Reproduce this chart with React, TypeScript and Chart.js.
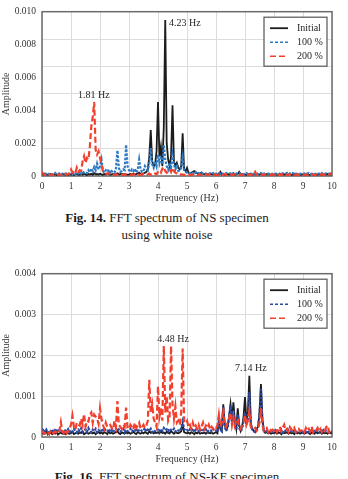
import React, { useEffect, useRef } from "react";
import { Chart, registerables } from "chart.js";

Chart.register(...registerables);

// Frequency bins (Hz), 0.05 Hz resolution, 0..10 Hz
const FREQ_BINS: number[] = Array.from({ length: 201 }, (_, i) => +(i * 0.05).toFixed(2));

// Amplitudes in units of 1e-5 ; one row per Hz (20 bins), last value = 10 Hz
// ---- Fig. 14  NS specimen ----
const NS_INITIAL = [
  12, 8, 14, 6, 10, 7, 12, 5, 9, 11, 6, 8, 10, 5, 9, 12, 7, 10, 6, 11,
  8, 12, 6, 10, 14, 7, 9, 12, 8, 15, 10, 6, 12, 9, 14, 8, 18, 10, 12, 9,
  14, 10, 8, 12, 9, 15, 11, 7, 10, 13, 8, 12, 16, 9, 11, 14, 8, 12, 10, 9,
  10, 12, 8, 15, 10, 12, 15, 20, 12, 10, 15, 20, 25, 40, 120, 280, 90, 60, 70, 150,
  450, 120, 180, 60, 300, 950, 200, 100, 60, 120, 430, 90, 60, 80, 50, 40, 60, 260, 40, 30,
  50, 20, 15, 20, 25, 30, 20, 15, 10, 15, 20, 12, 10, 15, 12, 10, 15, 10, 12, 10,
  8, 12, 10, 25, 9, 12, 7, 10, 14, 8, 11, 9, 13, 7, 10, 12, 25, 9, 11, 8,
  10, 7, 12, 9, 14, 8, 10, 12, 7, 11, 9, 13, 8, 10, 6, 12, 9, 11, 7, 10,
  9, 12, 8, 10, 14, 7, 11, 9, 12, 8, 10, 13, 7, 9, 12, 8, 11, 10, 7, 9,
  11, 8, 10, 12, 7, 9, 13, 8, 10, 11, 7, 12, 9, 10, 8, 11, 9, 12, 8, 10,
  10,
];
const NS_100 = [
  18, 12, 20, 9, 15, 11, 17, 8, 14, 19, 10, 13, 16, 9, 12, 18, 11, 15, 10, 14,
  15, 10, 20, 12, 18, 14, 25, 15, 30, 20, 25, 18, 35, 22, 45, 30, 55, 35, 75, 40,
  60, 100, 30, 20, 35, 25, 40, 18, 30, 22, 20, 45, 155, 50, 25, 30, 40, 35, 190, 60,
  35, 25, 40, 30, 45, 20, 35, 100, 40, 25, 30, 60, 45, 35, 80, 170, 70, 50, 90, 60,
  130, 80, 120, 70, 190, 100, 60, 40, 80, 50, 130, 70, 40, 60, 30, 35, 50, 115, 30, 25,
  20, 15, 18, 12, 20, 16, 25, 14, 18, 12, 20, 15, 17, 11, 19, 14, 16, 12, 18, 13,
  15, 11, 18, 13, 20, 12, 16, 19, 11, 14, 17, 12, 18, 10, 15, 13, 19, 12, 16, 11,
  14, 18, 11, 16, 13, 19, 12, 15, 17, 11, 14, 18, 12, 16, 10, 15, 13, 17, 12, 14,
  16, 12, 18, 11, 15, 13, 17, 12, 14, 19, 11, 16, 13, 18, 12, 15, 11, 17, 13, 14,
  12, 16, 11, 15, 18, 12, 14, 17, 11, 16, 13, 15, 12, 18, 11, 14, 16, 12, 15, 13,
  14,
];
const NS_200 = [
  25, 10, 6, 12, 5, 8, 4, 10, 6, 9, 5, 8, 12, 6, 10, 7, 14, 8, 11, 20,
  40, 20, 30, 18, 50, 25, 35, 30, 90, 120, 80, 110, 100, 180, 300, 360, 450, 160, 130, 150,
  110, 70, 30, 20, 15, 12, 18, 10, 8, 12, 6, 10, 8, 12, 7, 9, 6, 10, 8, 7,
  8, 6, 10, 7, 12, 8, 6, 9, 7, 10, 12, 8, 6, 10, 15, 8, 12, 20, 15, 10,
  25, 30, 20, 45, 55, 30, 20, 35, 40, 25, 50, 30, 20, 15, 10, 12, 8, 10, 6, 8,
  10, 6, 8, 5, 9, 7, 11, 6, 8, 10, 5, 9, 7, 12, 6, 8, 10, 5, 7, 9,
  6, 9, 7, 10, 5, 8, 12, 6, 9, 7, 10, 8, 6, 11, 7, 9, 5, 8, 10, 6,
  8, 5, 9, 7, 11, 6, 8, 25, 7, 10, 5, 9, 8, 6, 11, 7, 9, 5, 8, 10,
  7, 10, 6, 8, 12, 5, 9, 7, 10, 6, 8, 11, 7, 9, 5, 8, 10, 6, 9, 7,
  8, 6, 10, 7, 9, 5, 11, 8, 6, 9, 7, 10, 8, 12, 6, 9, 7, 10, 8, 15,
  12,
];

// ---- Fig. 16  NS-KF specimen ----
const KF_INITIAL = [
  12, 8, 10, 14, 6, 9, 11, 7, 10, 8, 12, 6, 9, 11, 8, 10, 7, 12, 9, 8,
  10, 13, 7, 9, 12, 8, 11, 10, 14, 7, 9, 12, 8, 10, 13, 9, 11, 7, 10, 12,
  9, 11, 8, 12, 10, 7, 13, 9, 11, 8, 10, 12, 14, 9, 7, 11, 10, 8, 12, 9,
  11, 8, 10, 13, 9, 7, 12, 10, 8, 11, 9, 12, 10, 8, 14, 10, 12, 9, 11, 10,
  12, 9, 14, 10, 11, 8, 13, 10, 9, 15, 11, 8, 12, 10, 9, 11, 14, 30, 12, 10,
  9, 11, 8, 12, 10, 7, 11, 9, 12, 8, 10, 9, 11, 8, 12, 10, 9, 11, 8, 10,
  12, 9, 45, 20, 15, 80, 30, 18, 25, 50, 80, 40, 85, 40, 20, 70, 30, 15, 25, 50,
  98, 40, 60, 150, 35, 20, 15, 12, 20, 25, 60, 130, 45, 15, 10, 12, 9, 11, 8, 10,
  9, 12, 8, 10, 11, 7, 13, 9, 10, 12, 8, 11, 9, 10, 7, 12, 9, 11, 8, 10,
  11, 8, 10, 12, 9, 7, 11, 10, 8, 13, 9, 10, 12, 8, 11, 9, 10, 8, 12, 9,
  10,
];
const KF_100 = [
  15, 20, 12, 18, 10, 16, 14, 19, 11, 17, 13, 20, 15, 12, 18, 10, 16, 14, 19, 12,
  17, 13, 20, 15, 11, 18, 14, 21, 12, 16, 19, 13, 22, 15, 11, 18, 14, 20, 12, 17,
  15, 19, 12, 22, 16, 13, 20, 14, 18, 11, 17, 21, 15, 19, 13, 16, 20, 12, 18, 14,
  16, 20, 13, 18, 15, 21, 12, 17, 19, 14, 16, 22, 13, 18, 15, 20, 12, 17, 14, 19,
  18, 13, 20, 15, 22, 16, 19, 14, 21, 17, 15, 20, 13, 18, 16, 14, 22, 38, 20, 15,
  17, 13, 19, 15, 21, 12, 18, 16, 14, 20, 13, 17, 15, 19, 12, 16, 18, 14, 20, 15,
  16, 12, 35, 18, 14, 75, 25, 15, 22, 45, 78, 35, 65, 30, 18, 55, 22, 14, 20, 40,
  60, 30, 45, 110, 28, 18, 14, 12, 18, 22, 55, 120, 40, 14, 12, 15, 11, 13, 16, 12,
  14, 17, 12, 15, 13, 18, 11, 16, 14, 12, 17, 13, 15, 11, 16, 14, 12, 15, 13, 17,
  12, 15, 13, 16, 11, 14, 17, 12, 15, 13, 16, 11, 14, 12, 17, 13, 15, 12, 14, 16,
  14,
];
const KF_200 = [
  15, 10, 8, 14, 12, 7, 16, 10, 9, 13, 11, 8, 15, 36, 12, 10, 18, 9, 14, 22,
  30, 52, 25, 18, 35, 30, 28, 45, 30, 56, 25, 40, 38, 55, 60, 35, 55, 50, 45, 32,
  70, 45, 30, 20, 35, 25, 28, 30, 22, 18, 40, 25, 88, 30, 25, 20, 30, 25, 72, 22,
  20, 30, 25, 18, 35, 22, 28, 35, 20, 25, 30, 22, 28, 40, 140, 60, 80, 45, 35, 25,
  124, 50, 70, 40, 223, 60, 100, 40, 50, 223, 80, 45, 75, 35, 40, 30, 60, 217, 40, 35,
  40, 25, 30, 20, 35, 22, 28, 20, 30, 18, 25, 35, 20, 28, 22, 30, 18, 25, 20, 15,
  20, 30, 55, 25, 35, 70, 30, 25, 35, 45, 60, 30, 50, 28, 40, 45, 25, 20, 30, 35,
  55, 30, 40, 65, 25, 20, 18, 22, 15, 20, 35, 70, 30, 15, 18, 22, 12, 20, 15, 18,
  15, 20, 12, 18, 25, 14, 22, 30, 16, 20, 12, 24, 18, 15, 22, 12, 18, 20, 14, 16,
  18, 12, 22, 15, 20, 14, 25, 12, 18, 16, 22, 14, 20, 12, 18, 15, 24, 28, 12, 15,
  18,
];

const SERIES_LABELS = ["Initial", "100 %", "200 %"];
const X_TICKS = [0, 1, 2, 3, 4, 5, 6, 7, 8, 9, 10];

const FONT = "'Liberation Serif', 'Times New Roman', serif";
const UNIT = 1e-5;

type Ann = { text: string; x: number; y: number; align: CanvasTextAlign };

const toPoints = (vals: number[]) =>
  FREQ_BINS.map((f, i) => ({ x: f, y: (vals[i] ?? 0) * UNIT }));

function makeChart(
  canvas: HTMLCanvasElement,
  series: number[][],
  colors: string[],
  yMax: number,
  yStep: number,
  gridStep: number,
  anns: Ann[]
) {
  const widths = [1.8, 2.2, 2.2];
  const dashes = [[], [2.5, 1.5], [6, 3]];
  const legendDashes = [[], [3, 2], [6, 3]];
  const orders = [2, 1, 0];

  const framePlugin = {
    id: "frame",
    beforeDatasetsDraw(chart: any) {
      const { ctx, chartArea: a } = chart;
      ctx.save();
      ctx.strokeStyle = "#6b6b6b";
      ctx.lineWidth = 1.5;
      ctx.strokeRect(a.left, a.top, a.right - a.left, a.bottom - a.top);
      ctx.restore();
    },
    afterDraw(chart: any) {
      const { ctx, chartArea: a, scales } = chart;
      ctx.save();
      // annotations
      ctx.fillStyle = "#262626";
      ctx.font = `10px ${FONT}`;
      ctx.textBaseline = "middle";
      anns.forEach((an) => {
        ctx.textAlign = an.align;
        ctx.fillText(an.text, scales.x.getPixelForValue(an.x), scales.y.getPixelForValue(an.y));
      });
      // legend box
      const w = 63, h = 49;
      const x = a.right - 5 - w;
      const y = a.top + 5.5;
      ctx.fillStyle = "#ffffff";
      ctx.fillRect(x, y, w, h);
      ctx.strokeStyle = "#555555";
      ctx.lineWidth = 1.2;
      ctx.strokeRect(x, y, w, h);
      SERIES_LABELS.forEach((lab, i) => {
        const cy = y + 11 + i * 14;
        ctx.strokeStyle = colors[i];
        ctx.lineWidth = i === 0 ? 1.8 : 1.6;
        ctx.setLineDash(legendDashes[i]);
        ctx.beginPath();
        ctx.moveTo(x + 6, cy);
        ctx.lineTo(x + 24, cy);
        ctx.stroke();
        ctx.setLineDash([]);
        ctx.fillStyle = "#262626";
        ctx.textAlign = "left";
        ctx.fillText(lab, x + 33, cy + 0.5);
      });
      ctx.restore();
    },
  };

  return new Chart(canvas, {
    type: "line",
    data: {
      datasets: series.map((vals, i) => ({
        label: SERIES_LABELS[i],
        data: toPoints(vals),
        borderColor: colors[i],
        backgroundColor: colors[i],
        borderWidth: widths[i],
        borderDash: dashes[i],
        pointRadius: 0,
        tension: 0,
        fill: false,
        order: orders[i],
      })),
    },
    options: {
      animation: false,
      responsive: false,
      devicePixelRatio: 1,
      layout: { padding: { top: 7, right: 16, left: 0, bottom: 0 } },
      plugins: { legend: { display: false }, tooltip: { enabled: false } },
      scales: {
        x: {
          type: "linear",
          min: 0,
          max: 10,
          afterBuildTicks: (s: any) => {
            s.ticks = X_TICKS.map((v) => ({ value: v }));
          },
          afterFit: (s: any) => {
            s.height = 29;
          },
          ticks: { color: "#333", font: { family: FONT, size: 9.5 }, padding: 5, maxRotation: 0 },
          grid: { color: "#dcdcdc", lineWidth: 1, drawTicks: false },
          border: { display: false },
          title: {
            display: true,
            text: "Frequency (Hz)",
            color: "#333",
            font: { family: FONT, size: 10 },
            padding: { top: 0, bottom: 1 },
          },
        },
        y: {
          type: "linear",
          min: 0,
          max: yMax,
          afterFit: (s: any) => {
            s.width = 42;
          },
          ticks: {
            stepSize: yStep,
            color: "#333",
            font: { family: FONT, size: 9.5 },
            padding: 6,
            callback: (v: any) => (Math.abs(v) < 1e-12 ? "0" : Number(v).toFixed(3)),
          },
          grid: { display: gridStep === yStep, color: "#dcdcdc", drawTicks: false },
          border: { display: false },
          title: {
            display: true,
            text: "Amplitude",
            color: "#333",
            font: { family: FONT, size: 10 },
            padding: { top: 0, bottom: 0 },
          },
        },
        yg: {
          type: "linear",
          position: "right",
          display: gridStep !== yStep,
          min: 0,
          max: yMax,
          afterFit: (s: any) => {
            s.width = 0;
          },
          ticks: { display: false, stepSize: gridStep },
          grid: { color: "#dcdcdc", drawTicks: false },
          border: { display: false },
        },
      },
    } as any,
    plugins: [framePlugin],
  });
}

export default function App() {
  const c1 = useRef<HTMLCanvasElement>(null);
  const c2 = useRef<HTMLCanvasElement>(null);

  useEffect(() => {
    const ch1 = makeChart(
      c1.current!,
      [NS_INITIAL, NS_100, NS_200],
      ["#1c1c1c", "#2e7bc4", "#f2402f"],
      0.01,
      0.002,
      0.01 / 6,
      [
        { text: "4.23 Hz", x: 4.38, y: 0.0093, align: "left" },
        { text: "1.81 Hz", x: 1.79, y: 0.0049, align: "center" },
      ]
    );
    const ch2 = makeChart(
      c2.current!,
      [KF_INITIAL, KF_100, KF_200],
      ["#1c1c1c", "#2b4aa0", "#f2402f"],
      0.004,
      0.001,
      0.001,
      [
        { text: "4.48 Hz", x: 4.52, y: 0.00238, align: "center" },
        { text: "7.14 Hz", x: 7.2, y: 0.00167, align: "center" },
      ]
    );
    return () => {
      ch1.destroy();
      ch2.destroy();
    };
  }, []);

  const capStyle: React.CSSProperties = {
    position: "absolute",
    left: 0,
    width: 334,
    textAlign: "center",
    fontFamily: FONT,
    fontSize: 13,
    lineHeight: "17px",
    color: "#1a1a1a",
    margin: 0,
  };

  return (
    <div
      style={{
        position: "absolute",
        top: 0,
        left: 0,
        width: 348,
        height: 479,
        overflow: "hidden",
        background: "#fff",
      }}
    >
      <canvas ref={c1} width={348} height={205} style={{ position: "absolute", top: 0, left: 0 }} />
      <div style={{ ...capStyle, top: 209 }}>
        <b>Fig. 14.</b> FFT spectrum of NS specimen
        <br />
        using white noise
      </div>
      <canvas ref={c2} width={348} height={204} style={{ position: "absolute", top: 262, left: 0 }} />
      <div style={{ ...capStyle, top: 468 }}>
        <b>Fig. 16.</b> FFT spectrum of NS-KF specimen
      </div>
    </div>
  );
}
